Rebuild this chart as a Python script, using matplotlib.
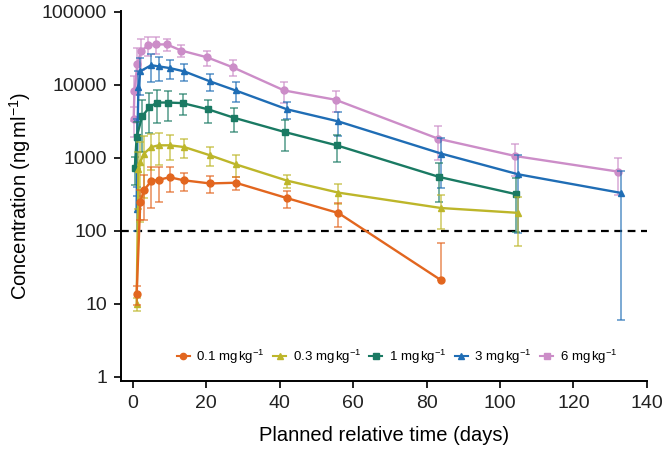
import numpy as np
import matplotlib
matplotlib.use("Agg")
import matplotlib.pyplot as plt

plt.rcParams['font.family'] = ['Liberation Sans', 'DejaVu Sans']
plt.rcParams['mathtext.fontset'] = 'custom'
plt.rcParams['mathtext.rm'] = 'Liberation Sans'
plt.rcParams['mathtext.it'] = 'Liberation Sans:italic'

# ---- data (days, ng/ml, SD) ----
t_01 = [1, 2, 3, 5, 7, 10, 14, 21, 28, 42, 56, 84]
c_01 = [13.5, 250, 360, 480, 500, 540, 490, 445, 455, 280, 175, 21]
sd_01 = [4, 110, 220, 275, 250, 200, 135, 115, 90, 75, 62, 48]

t_03 = [1, 1.5, 2, 3, 5, 7, 10, 14, 21, 28, 42, 56, 84, 105]
c_03 = [10, 700, 880, 1140, 1400, 1480, 1480, 1400, 1080, 813, 486, 333, 205, 176]
sd_03 = [2, 500, 750, 860, 730, 690, 550, 420, 320, 270, 100, 100, 100, 115]

t_1 = [1, 1.5, 3, 5, 7, 10, 14, 21, 28, 42, 56, 84, 105]
c_1 = [720, 1900, 3700, 4900, 5700, 5700, 5600, 4600, 3530, 2240, 1480, 545, 316]
sd_1 = [300, 1200, 2500, 2700, 2700, 2500, 1800, 1600, 1300, 1000, 600, 300, 220]

t_3 = [1, 1.2, 1.5, 2, 5, 7, 10, 14, 21, 28, 42, 56, 84, 105, 133]
c_3 = [200, 1900, 9200, 15300, 18500, 17800, 16900, 15200, 11100, 8330, 4600, 3140, 1140, 593, 330]
sd_3 = [100, 1500, 6000, 8000, 7500, 6500, 5000, 3800, 3000, 2500, 1200, 1150, 750, 500, 324]

t_6 = [1, 1.2, 2, 3, 5, 7, 10, 14, 21, 28, 42, 56, 84, 105, 133]
c_6 = [3420, 8150, 19300, 28700, 35100, 35600, 35600, 29300, 23700, 17300, 8340, 6220, 1820, 1055, 646]
sd_6 = [1500, 5000, 12000, 13000, 10000, 9000, 6500, 5500, 5500, 4300, 2700, 2000, 900, 500, 340]

labels = [r"0.1 mg$\,$kg$^{-1}$", r"0.3 mg$\,$kg$^{-1}$", r"1 mg$\,$kg$^{-1}$",
          r"3 mg$\,$kg$^{-1}$", r"6 mg$\,$kg$^{-1}$"]
lloq = 100

series = [
    (t_01, c_01, sd_01, "#e2661f", "o", 0.0),
    (t_03, c_03, sd_03, "#bdb62a", "^", 0.0),
    (t_1, c_1, sd_1, "#1a7a63", "s", -0.5),
    (t_3, c_3, sd_3, "#1f6db5", "^", 0.0),
    (t_6, c_6, sd_6, "#cc8dc8", "o", -0.8),
]
legend_markers = ["o", "^", "s", "^", "s"]

fig = plt.figure(figsize=(6.64, 4.59), dpi=100)
ax = fig.add_axes([0.182, 0.170, 0.792, 0.806])

for i in reversed(range(len(series))):
    t, c, sd, col, mk, dodge = series[i]
    x = np.array(t) + dodge
    c = np.array(c, dtype=float)
    sd = np.array(sd, dtype=float)
    lo = np.where(c - sd > 0, sd, 0.0)
    ax.errorbar(x, c, yerr=[lo, sd], fmt='none', ecolor=col, alpha=0.75,
                elinewidth=1.1, capsize=3, capthick=1.1, zorder=2 + (5 - i))
    ax.plot(x, c, color=col, marker=mk, markersize=5, lw=1.7,
            zorder=3 + (5 - i))

# legend handles (pink shown as a square in the reference legend)
handles = []
for i, (t, c, sd, col, mk, dodge) in enumerate(series):
    h, = ax.plot([], [], color=col, marker=legend_markers[i], markersize=5,
                 lw=1.5, label=labels[i])
    handles.append(h)

ax.axhline(lloq, color='black', lw=1.6, ls=(0, (3.5, 2.5)), zorder=1)

ax.set_yscale('log')
ax.set_ylim(0.88, 1.02e5)
ax.set_xlim(-3.3, 140)
ax.set_yticks([1, 10, 100, 1000, 10000, 100000])
ax.set_yticklabels(["1", "10", "100", "1000", "10000", "100000"])
ax.minorticks_off()
ax.set_xticks(range(0, 141, 20))

for s in ['top', 'right']:
    ax.spines[s].set_visible(False)
for s in ['left', 'bottom']:
    ax.spines[s].set_linewidth(1.4)
ax.tick_params(axis='both', direction='out', length=5, width=1.4,
               labelsize=14, pad=5, colors='#222222')

ax.set_xlabel("Planned relative time (days)", fontsize=14.5, labelpad=10)
ax.set_ylabel(r"Concentration (ng$\,$ml$^{-1}$)", fontsize=14.5, labelpad=6)

ax.legend(handles=handles, loc='center', bbox_to_anchor=(0.525, 0.065), ncol=5,
          frameon=False, fontsize=9.5, handlelength=1.0, handletextpad=0.5,
          columnspacing=0.6, markerscale=0.9)

fig.savefig("out.png", dpi=100)
